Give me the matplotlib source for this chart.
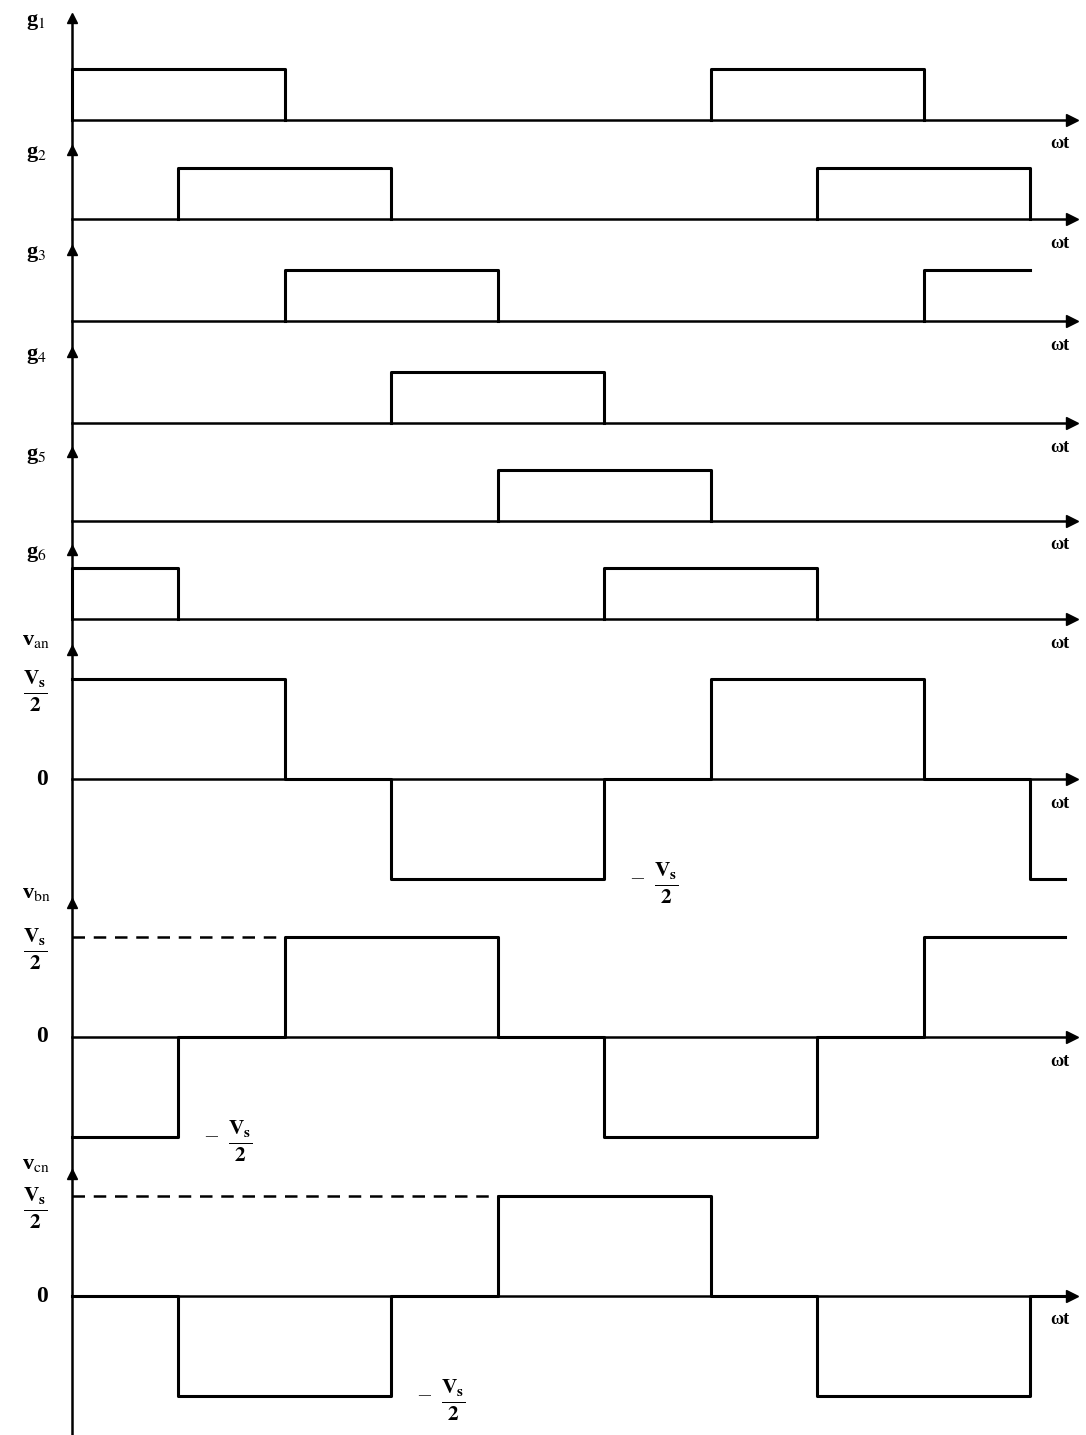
import matplotlib
matplotlib.use("Agg")
import matplotlib.pyplot as plt

# ---------------- data (angles in degrees) ----------------
gate_names = ["g$_1$", "g$_2$", "g$_3$", "g$_4$", "g$_5$", "g$_6$"]
g1_on = [(0, 120), (360, 480)]
g2_on = [(60, 180), (420, 540)]
g3_on = [(120, 240), (480, 540)]
g4_on = [(180, 300)]
g5_on = [(240, 360)]
g6_on = [(0, 60), (300, 420)]
gates = [g1_on, g2_on, g3_on, g4_on, g5_on, g6_on]
open_end = [False, False, True, False, False, False]   # g3 stays high at the end

volt_names = ["v$_{\\mathrm{an}}$", "v$_{\\mathrm{bn}}$", "v$_{\\mathrm{cn}}$"]
van_edges = [0, 120, 180, 300, 360, 480, 540, 560]
van_levels = [0.5, 0, -0.5, 0, 0.5, 0, -0.5]
vbn_edges = [0, 60, 120, 240, 300, 420, 480, 560]
vbn_levels = [-0.5, 0, 0.5, 0, -0.5, 0, 0.5]
vcn_edges = [0, 60, 180, 240, 360, 420, 540, 560]
vcn_levels = [0, -0.5, 0, 0.5, 0, -0.5, 0]
volts = [(van_edges, van_levels), (vbn_edges, vbn_levels), (vcn_edges, vcn_levels)]
dash_end = [None, 120, 240]           # dashed Vs/2 reference line end
neg_label_at = [300, 60, 180]         # where the -Vs/2 label sits

# ---------------- layout (pixels) ----------------
W, H = 1086, 1435
X0, X1 = 72, 1072
DEG_PER_PX = 60 / 106.44
tips = [18, 150, 250, 352, 452, 550, 650, 903, 1174]
bases = [120, 219, 321, 423, 521, 619, 779, 1037, 1296]
bottoms = tips[1:] + [1435]

plt.rcParams["font.family"] = ["Liberation Serif", "DejaVu Serif"]
plt.rcParams["mathtext.fontset"] = "stix"

fig = plt.figure(figsize=(W / 100, H / 100), dpi=100)
LW = 2.2
AX_LW = 1.8
xmax = (X1 - X0) * DEG_PER_PX


def make_ax(i, unit_per_px):
    top, bot, base = tips[i], bottoms[i], bases[i]
    ax = fig.add_axes([X0 / W, 1 - bot / H, (X1 - X0) / W, (bot - top) / H])
    ax.set_xlim(0, xmax)
    ax.set_ylim((base - bot) * unit_per_px, (base - top) * unit_per_px)
    for s in ["top", "right", "bottom"]:
        ax.spines[s].set_visible(False)
    ax.spines["left"].set_linewidth(AX_LW)
    ax.set_xticks([])
    ax.set_yticks([])
    ax.patch.set_alpha(0)
    # y arrow
    ax.plot([0], [1], marker="^", color="black", markersize=7,
            transform=ax.transAxes, clip_on=False)
    # x axis with arrow
    tr = ax.get_yaxis_transform()
    ax.plot([0, 1], [0, 0], color="black", lw=AX_LW, transform=tr, clip_on=False)
    ax.plot([1], [0], marker=">", color="black", markersize=8,
            transform=tr, clip_on=False)
    ax.annotate("ωt", xy=(1, 0), xycoords=tr, xytext=(-12, -24),
                textcoords="offset pixels", ha="center", va="center",
                fontsize=13, fontweight="bold")
    return ax


for i, (name, on) in enumerate(zip(gate_names, gates)):
    ax = make_ax(i, 1 / 51)
    for k, (a, b) in enumerate(on):
        if open_end[i] and k == len(on) - 1:
            ax.plot([a, a, b], [0, 1, 1], color="black", lw=LW, clip_on=False)
        else:
            ax.plot([a, a, b, b], [0, 1, 1, 0], color="black", lw=LW, clip_on=False)
    ax.annotate(name, xy=(0, 1), xycoords="axes fraction", xytext=(-36, -4),
                textcoords="offset pixels", ha="center", va="center",
                fontsize=16, fontweight="bold")

frac = r"$\frac{\mathbf{V}_\mathbf{s}}{\mathbf{2}}$"
for j, (name, (edges, levels)) in enumerate(zip(volt_names, volts)):
    ax = make_ax(6 + j, 0.5 / 100)
    ax.step(edges, levels + [levels[-1]], where="post", color="black", lw=LW,
            clip_on=False)
    if dash_end[j] is not None:
        ax.plot([0, dash_end[j]], [0.5, 0.5], color="black", lw=1.8,
                ls=(0, (5, 3.5)))
    tr = ax.get_yaxis_transform()
    ax.annotate(name, xy=(0, 1), xycoords="axes fraction", xytext=(-36, 10),
                textcoords="offset pixels", ha="center", va="center",
                fontsize=16, fontweight="bold")
    ax.annotate(frac, xy=(0, 0.5), xycoords=tr, xytext=(-37, -12),
                textcoords="offset pixels", ha="center", va="center",
                fontsize=22)
    ax.annotate("0", xy=(0, 0), xycoords=tr, xytext=(-30, 0),
                textcoords="offset pixels", ha="center", va="center",
                fontsize=17, fontweight="bold")
    ax.annotate("–", xy=(neg_label_at[j], -0.5), xycoords="data",
                xytext=(33, 0), textcoords="offset pixels", ha="center",
                va="center", fontsize=17, color="#333333")
    ax.annotate(frac, xy=(neg_label_at[j], -0.5), xycoords="data",
                xytext=(62, -4), textcoords="offset pixels", ha="center",
                va="center", fontsize=22)

fig.savefig("out.png", dpi=100)
